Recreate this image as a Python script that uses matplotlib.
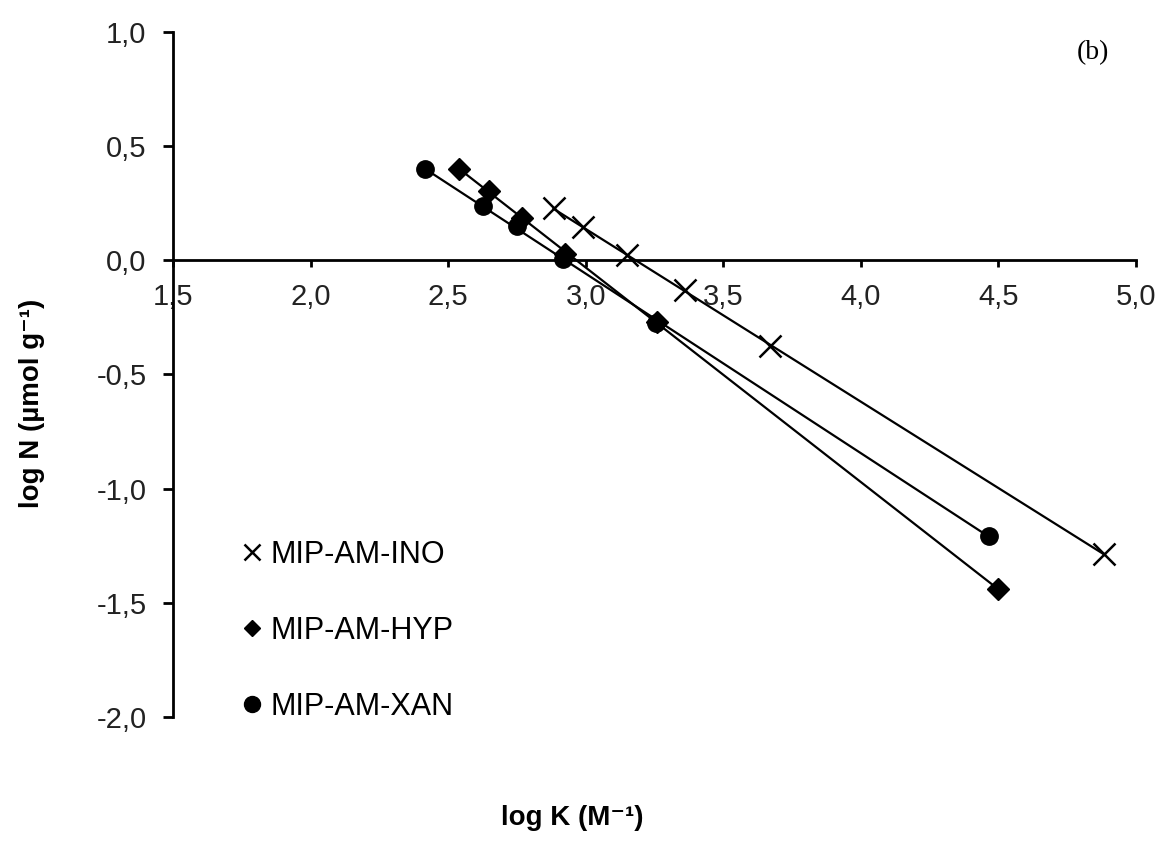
import numpy as np
import matplotlib
matplotlib.use("Agg")
import matplotlib.pyplot as plt
from matplotlib.lines import Line2D

# Data
ino_x = [2.883, 2.990, 3.150, 3.362, 3.671, 4.885]
ino_y = [0.227, 0.146, 0.022, -0.132, -0.377, -1.287]

hyp_x = [2.539, 2.647, 2.770, 2.923, 3.259, 4.499]
hyp_y = [0.402, 0.304, 0.187, 0.029, -0.270, -1.440]

xan_x = [2.416, 2.626, 2.752, 2.918, 3.255, 4.465]
xan_y = [0.398, 0.237, 0.149, 0.007, -0.275, -1.206]

series_labels = ["MIP-AM-INO", "MIP-AM-HYP", "MIP-AM-XAN"]
x_ticks = [1.5, 2.0, 2.5, 3.0, 3.5, 4.0, 4.5, 5.0]
y_ticks = [1.0, 0.5, 0.0, -0.5, -1.0, -1.5, -2.0]

plt.rcParams['font.family'] = ['Liberation Sans', 'DejaVu Sans']

fig = plt.figure(figsize=(11.64, 8.41), dpi=100)
ax = fig.add_axes([0.1486, 0.1474, 0.976 - 0.1486, 0.962 - 0.1474])

def fmt(v):
    return f"{v:.1f}".replace(".", ",")

styles = [
    dict(marker='x', ms=16, mew=1.8, mfc='black', mec='black'),
    dict(marker='D', ms=11, mew=1.0, mfc='black', mec='black'),
    dict(marker='o', ms=12.5, mew=1.0, mfc='black', mec='black'),
]

for (xs, ys), st in zip([(ino_x, ino_y), (hyp_x, hyp_y), (xan_x, xan_y)], styles):
    xs = np.asarray(xs); ys = np.asarray(ys)
    p = np.polyfit(xs, ys, 1)
    xl = np.array([xs.min(), xs.max()])
    ax.plot(xl, np.polyval(p, xl), color='black', lw=1.6, zorder=2)
    ax.plot(xs, ys, linestyle='none', color='black', zorder=3, **st)

ax.set_xlim(1.5, 5.0)
ax.set_ylim(-2.0, 1.0)
ax.set_xticks(x_ticks)
ax.set_xticklabels([fmt(v) for v in x_ticks])
ax.set_yticks(y_ticks)
ax.set_yticklabels([fmt(v) for v in y_ticks])

ax.spines['top'].set_visible(False)
ax.spines['right'].set_visible(False)
ax.spines['bottom'].set_position(('data', 0))
ax.spines['left'].set_linewidth(2.0)
ax.spines['bottom'].set_linewidth(2.0)
ax.tick_params(axis='both', direction='out', width=2.0,
               labelsize=21, colors='black', labelcolor='#222222')
ax.tick_params(axis='x', length=5, pad=11)
ax.tick_params(axis='y', length=7, pad=12)

handles = [
    Line2D([], [], linestyle='none', marker='x', ms=12, mew=1.8, color='black'),
    Line2D([], [], linestyle='none', marker='D', ms=8.5, color='black'),
    Line2D([], [], linestyle='none', marker='o', ms=11.5, color='black'),
]
ax.legend(handles, series_labels, loc='center left',
          bbox_to_anchor=(243 / 1164, 1 - 631 / 841), bbox_transform=fig.transFigure,
          frameon=False, fontsize=22, handlelength=0.6, handletextpad=0.3,
          labelspacing=1.5, borderpad=0, borderaxespad=0)

fig.text(572 / 1164, 1 - 818 / 841, "log K (M\u207b\u00b9)", ha='center', va='center',
         fontsize=20, fontweight='bold')
fig.text(32 / 1164, 1 - 403 / 841, "log N (µmol g\u207b\u00b9)", ha='center', va='center',
         rotation=90, fontsize=20, fontweight='bold')
fig.text(1093 / 1164, 1 - 53 / 841, "(b)", ha='center', va='center', fontsize=20,
         family='Liberation Serif')

fig.savefig("out.png", dpi=100)
